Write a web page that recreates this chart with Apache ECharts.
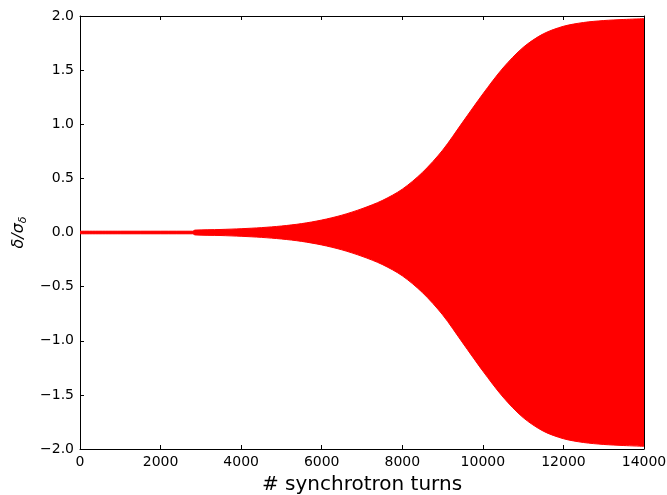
<!DOCTYPE html>
<html>
<head>
<meta charset="utf-8">
<script src="https://cdn.jsdelivr.net/npm/echarts@6/dist/echarts.min.js"></script>
<style>
html,body{margin:0;padding:0;background:#fff;overflow:hidden;}
#chart{width:667px;height:495px;}
</style>
</head>
<body>
<div id="chart"></div>
<script>
// Turn numbers at which the envelope of the oscillation was read
var turns = [0, 1000, 2000, 2800, 2850, 3500, 4000, 4500, 5000, 5500, 6000, 6500, 7000, 7500, 8000, 8500, 9000, 9500, 10000, 10500, 11000, 11500, 12000, 12500, 13000, 13500, 14000];
// Upper envelope of delta/sigma_delta
var upperEnvelope = [0.012, 0.012, 0.012, 0.012, 0.022, 0.028, 0.035, 0.045, 0.06, 0.082, 0.115, 0.16, 0.22, 0.295, 0.40, 0.555, 0.76, 1.02, 1.28, 1.52, 1.71, 1.835, 1.905, 1.94, 1.958, 1.968, 1.975];
// Lower envelope of delta/sigma_delta
var lowerEnvelope = [-0.012, -0.012, -0.012, -0.012, -0.022, -0.028, -0.035, -0.045, -0.06, -0.082, -0.115, -0.16, -0.22, -0.295, -0.40, -0.555, -0.76, -1.02, -1.28, -1.52, -1.71, -1.835, -1.905, -1.94, -1.958, -1.968, -1.975];
// Tick labels
var xTicks = [0, 2000, 4000, 6000, 8000, 10000, 12000, 14000];
var yTicks = [-2.0, -1.5, -1.0, -0.5, 0.0, 0.5, 1.0, 1.5, 2.0];

function pairs(xs, ys) { return xs.map(function (x, i) { return [x, ys[i]]; }); }

var font = 'DejaVu Sans';
var chart = echarts.init(document.getElementById('chart'), null, { width: 667, height: 495 });
var tickStyle = { show: true, inside: true, length: 4, lineStyle: { color: '#000', width: 1 } };
var lineStyle = { show: true, onZero: false, lineStyle: { color: '#000', width: 1 } };

chart.setOption({
  animation: false,
  backgroundColor: '#fff',
  grid: { left: 80, right: 23, top: 16, bottom: 46, containLabel: false, outerBoundsMode: 'none' },
  xAxis: [{
    type: 'value', min: xTicks[0], max: xTicks[xTicks.length - 1], interval: 2000,
    position: 'bottom',
    axisLine: lineStyle, axisTick: tickStyle, splitLine: { show: false },
    axisLabel: { color: '#000', fontFamily: font, fontSize: 14, margin: 6,
      formatter: function (v) { return String(v); } },
    name: '# synchrotron turns', nameLocation: 'middle', nameGap: 26,
    nameTextStyle: { color: '#000', fontFamily: font, fontSize: 20 }
  }, {
    type: 'value', min: xTicks[0], max: xTicks[xTicks.length - 1], interval: 2000,
    position: 'top',
    axisLine: lineStyle, axisTick: tickStyle, splitLine: { show: false },
    axisLabel: { show: false }
  }],
  yAxis: [{
    type: 'value', min: yTicks[0], max: yTicks[yTicks.length - 1], interval: 0.5,
    position: 'left',
    axisLine: lineStyle, axisTick: tickStyle, splitLine: { show: false },
    axisLabel: {
      color: '#000', fontFamily: font, fontSize: 14, margin: 6,
      formatter: function (v) { return v.toFixed(1).replace('-', '\u2212'); }
    },
    name: '{a|\u03b4/\u03c3}{s|\u03b4}', nameLocation: 'middle', nameGap: 38, nameRotate: 90,
    nameTextStyle: {
      color: '#000', fontFamily: font,
      rich: {
        a: { fontFamily: font, fontStyle: 'italic', fontSize: 16, color: '#000' },
        s: { fontFamily: font, fontStyle: 'italic', fontSize: 11, color: '#000', padding: [9, 0, 0, 0] }
      }
    }
  }, {
    type: 'value', min: yTicks[0], max: yTicks[yTicks.length - 1], interval: 0.5,
    position: 'right',
    axisLine: lineStyle, axisTick: tickStyle, splitLine: { show: false },
    axisLabel: { show: false }
  }],
  series: [{
    type: 'line', xAxisIndex: 0, yAxisIndex: 0,
    data: pairs(turns, upperEnvelope), smooth: 0.3, showSymbol: false,
    lineStyle: { color: '#ff0000', width: 1 },
    areaStyle: { color: '#ff0000', opacity: 1, origin: -0.01 },
    z: 1
  }, {
    type: 'line', xAxisIndex: 0, yAxisIndex: 0,
    data: pairs(turns, lowerEnvelope), smooth: 0.3, showSymbol: false,
    lineStyle: { color: '#ff0000', width: 1 },
    areaStyle: { color: '#ff0000', opacity: 1, origin: 0.01 },
    z: 1
  }]
});
</script>
</body>
</html>
